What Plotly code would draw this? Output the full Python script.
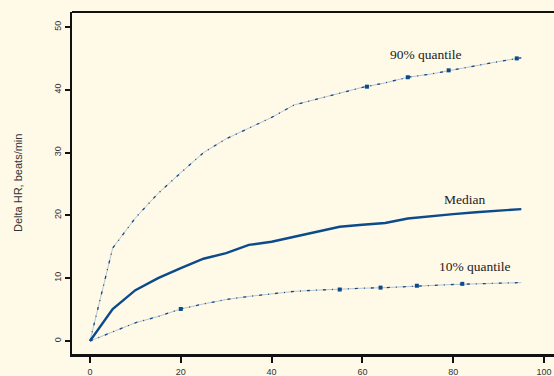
import plotly.graph_objects as go

# Data
x_med = [0, 5, 10, 15, 20, 25, 30, 35, 40, 45, 50, 55, 60, 65, 70, 75, 80, 85, 90, 95]
median = [0, 5.1, 8.1, 10.0, 11.6, 13.1, 14.0, 15.3, 15.8, 16.6, 17.5, 18.2, 18.5, 18.8, 19.5, 19.9, 20.2, 20.5, 20.8, 21.0]

x_q = [0, 2.5, 5, 10, 15, 20, 25, 30, 35, 40, 45, 50, 55, 60, 65, 70, 75, 80, 85, 90, 95]
q90 = [0, 7.5, 14.8, 19.6, 23.5, 26.8, 30.0, 32.2, 33.9, 35.6, 37.6, 38.5, 39.5, 40.4, 41.1, 42.0, 42.5, 43.2, 43.9, 44.5, 45.1]
q10 = [0, 0.7, 1.4, 2.9, 3.9, 5.1, 5.9, 6.6, 7.1, 7.5, 7.9, 8.1, 8.3, 8.4, 8.5, 8.7, 8.9, 9.0, 9.1, 9.2, 9.3]

x_mark90 = [61, 70, 79, 94]
mark90 = [40.5, 42.0, 43.1, 45.0]
x_mark10 = [20, 55, 64, 72, 82]
mark10 = [5.1, 8.2, 8.5, 8.8, 9.1]

x_ticks = [0, 20, 40, 60, 80, 100]
y_ticks = [0, 10, 20, 30, 40, 50]

labels = [("90% quantile", 74, 45.7), ("Median", 82.4, 22.5), ("10% quantile", 84.8, 11.9)]

BG = "#FFF9E8"
DARK = "#0B4A8B"
LIGHT = "#B9C5CF"

fig = go.Figure()

for yv in (q90, q10):
    fig.add_trace(go.Scatter(x=x_q, y=yv, mode="lines",
                             line=dict(color=LIGHT, width=1), hoverinfo="skip"))
    fig.add_trace(go.Scatter(x=x_q, y=yv, mode="lines",
                             line=dict(color=DARK, width=1.3, dash="3px,6px,1px,6px"),
                             hoverinfo="skip"))

fig.add_trace(go.Scatter(x=x_mark90, y=mark90, mode="markers",
                         marker=dict(symbol="square", size=4, color=DARK)))
fig.add_trace(go.Scatter(x=x_mark10, y=mark10, mode="markers",
                         marker=dict(symbol="square", size=4, color=DARK)))

fig.add_trace(go.Scatter(x=x_med, y=median, mode="lines",
                         line=dict(color=DARK, width=2.4)))

for text, xv, yv in labels:
    fig.add_annotation(x=xv, y=yv, text=text, showarrow=False,
                       xanchor="center", yanchor="middle",
                       font=dict(family="Liberation Serif", size=13.5, color="#222222"))

fig.add_annotation(xref="paper", yref="paper", x=-54 / 482, y=0.5,
                   text="Delta HR, beats/min", textangle=-90, showarrow=False,
                   xanchor="center", yanchor="middle",
                   font=dict(family="Liberation Sans", size=11, color="#333333"))

# top frame line
fig.add_shape(type="line", xref="paper", yref="paper", x0=0, x1=1, y0=1, y1=1,
              line=dict(color="#111111", width=2))

fig.update_layout(
    width=554, height=376,
    margin=dict(l=72, r=0, t=12, b=22, autoexpand=False),
    paper_bgcolor=BG, plot_bgcolor=BG,
    showlegend=False,
    xaxis=dict(range=[-3.96, 102.2], tickvals=x_ticks, ticktext=[str(v) for v in x_ticks],
               automargin=False,
               showgrid=False, zeroline=False, showline=True, linecolor="#111111",
               linewidth=3, ticks="outside", ticklen=6, tickwidth=2, tickcolor="#111111",
               ticklabelstandoff=1,
               tickfont=dict(family="Liberation Sans", size=9, color="#333333")),
    yaxis=dict(range=[-2.07, 52.39], tickvals=y_ticks, ticktext=[str(v) for v in y_ticks],
               automargin=False,
               showgrid=False, zeroline=False, showline=True, linecolor="#111111",
               linewidth=2, ticks="outside", ticklen=5, tickwidth=2, tickcolor="#111111",
               tickangle=-90,
               tickfont=dict(family="Liberation Sans", size=9, color="#333333")),
)

fig.write_html("out.html", config={"displayModeBar": False},
               post_script="document.body.style.margin='0';document.body.style.overflow='hidden';")
